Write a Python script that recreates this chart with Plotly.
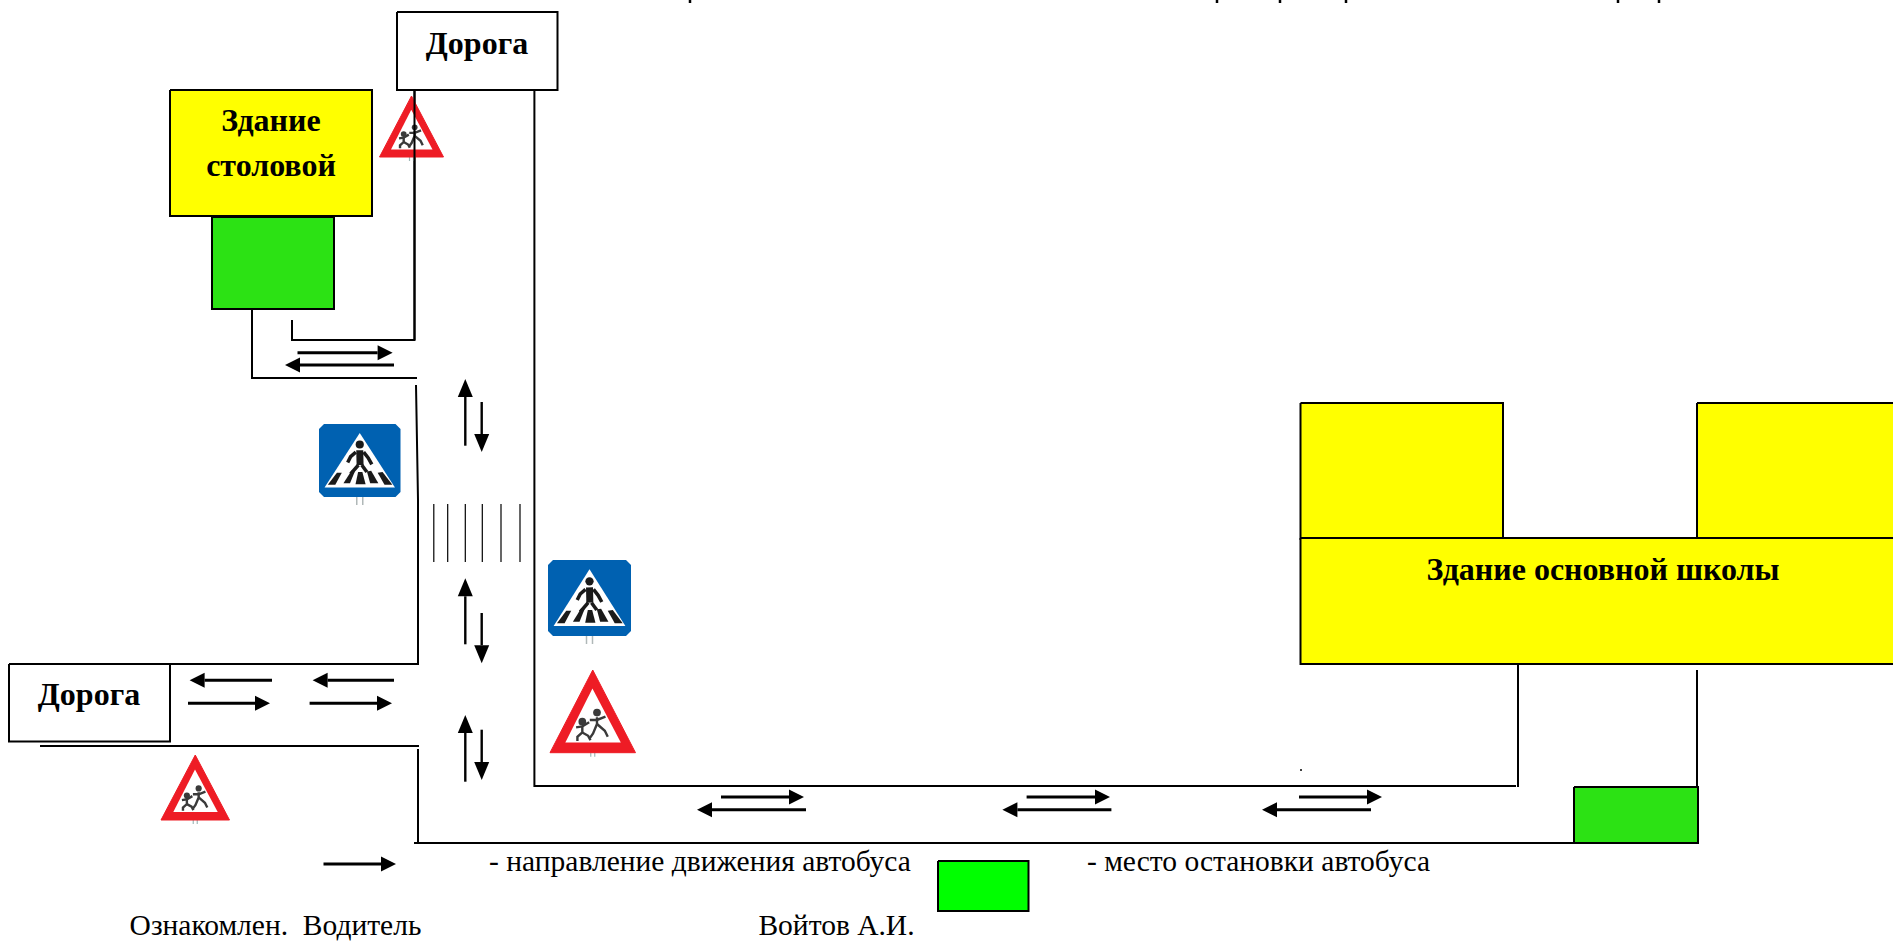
import plotly.graph_objects as go

# ---------- diagram data (page pixels, y down) ----------
road_lines = [
    ([414.5, 414.5, 292, 292], [90, 340, 340, 320]),
    ([252, 252, 417], [309, 378, 378]),
    ([534.4, 534.4, 1516], [90, 786, 786]),
    ([416, 418, 418, 40], [385, 500, 664, 664]),
    ([40, 419], [746, 746]),
    ([418, 418], [749, 843]),
    ([414, 1699], [843, 843]),
    ([1518, 1518], [664, 787]),
    ([1697, 1697], [670, 786]),
]
stripe_x = [433.8, 447.7, 465.3, 482.3, 501, 520]
stripe_y = [504, 562]

boxes = [  # x0, x1, y0, y1, fill
    (170, 372, 90, 216, "#ffff00"),
    (212, 334, 217, 309, "#2ce214"),
    (397, 557.5, 12, 90, "#ffffff"),
    (9, 170, 664, 741.5, "#ffffff"),
    (1300.5, 1503, 403, 539, "#ffff00"),
    (1697, 1895, 403, 539, "#ffff00"),
    (1300.5, 1895, 538, 664, "#ffff00"),
    (1574, 1698, 787, 843, "#2ce214"),
    (938, 1028.5, 861, 911, "#00ff00"),
]

h_arrows = [  # tail x, tip x, y
    (297.5, 392.6, 352.7), (394, 285, 365),
    (272, 189.6, 680.3), (394, 312.6, 680.3),
    (188, 270, 703.3), (309.6, 392, 703.3),
    (721, 804, 797), (806, 697, 809.7),
    (1026.6, 1110, 797), (1111.4, 1002.4, 809.7),
    (1299, 1382, 797), (1371, 1262, 809.7),
    (323.5, 396, 864),
]
v_arrows = [  # x, tail y, tip y
    (465.3, 445.7, 379), (481.7, 402, 452),
    (465.3, 644.3, 578.3), (481.7, 613, 663.3),
    (465.3, 781.7, 715), (481.7, 729.7, 780),
]

crossing_signs = [(319, 400.5, 424, 497), (548, 631, 560, 636)]
child_signs = [(379.5, 443.5, 96, 157), (550, 635.5, 670, 752.7), (161, 229.5, 755, 820)]

# sign artwork, in a template box
crossing_box = (25, 275, 30, 258)
crossing_tri = ([150, 258, 42, 150], [58, 228, 228, 58])
crossing_torso = ([150, 151], [112, 158])
crossing_limbs = [
    ([138, 122, 113], [118, 132, 150]),
    ([162, 176, 187], [118, 136, 156]),
    ([146, 134, 122], [158, 172, 186]),
    ([156, 163, 172], [158, 168, 180]),
]
crossing_bars = [
    ([52, 80, 95, 75], [220, 182, 182, 220]),
    ([100, 125, 135, 120], [215, 175, 178, 215]),
    ([137, 145, 158, 168], [218, 180, 180, 218]),
    ([182, 172, 185, 207], [215, 178, 176, 215]),
    ([226, 205, 220, 250], [220, 182, 180, 220]),
]
crossing_head = (150, 94)

child_box = (28, 290, 30, 275)
child_inner = ([158, 245, 75, 158], [85, 245, 245, 85])
child_lines = [
    ([172, 172, 160, 150], [170, 190, 218, 232]),
    ([172, 196, 205], [190, 210, 228]),
    ([150, 172, 198], [178, 178, 168]),
    ([127, 127, 112, 112], [195, 215, 228, 240]),
    ([127, 145, 152], [215, 225, 238]),
    ([108, 127, 148], [200, 197, 185]),
]
child_heads = [(172, 156), (127, 183)]

labels = ["Дорога", "Здание", "столовой", "Дорога", "Здание основной школы"]
label_x = [477, 271, 271, 89, 1603]
label_y = [46, 123, 168, 697, 572]

notes = ["- направление движения автобуса", "- место остановки автобуса",
         "Ознакомлен.  Водитель", "Войтов А.И."]
note_x = [700, 1258.5, 275.5, 836.5]
note_y = [864, 864, 928, 928]

title_stems = [690, 1217, 1280, 1346, 1618, 1659]
stray_dot = (1301, 770)

# ---------- drawing ----------
fig = go.Figure()


def line(x, y, w=2, c="#000000"):
    fig.add_trace(go.Scatter(x=list(x), y=list(y), mode="lines", line=dict(color=c, width=w),
                             hoverinfo="skip", showlegend=False))


def poly(x, y, c, lw=0, lc=None):
    fig.add_trace(go.Scatter(x=list(x) + [x[0]], y=list(y) + [y[0]], mode="lines", fill="toself",
                             fillcolor=c, line=dict(color=lc or c, width=lw),
                             hoverinfo="skip", showlegend=False))


def mapper(box, target):
    bx0, bx1, by0, by1 = box
    x0, x1, y0, y1 = target
    return (lambda v: [x0 + (a - bx0) / (bx1 - bx0) * (x1 - x0) for a in v],
            lambda v: [y0 + (a - by0) / (by1 - by0) * (y1 - y0) for a in v])


def disc(x, y, size, c):
    fig.add_trace(go.Scatter(x=[x], y=[y], mode="markers", marker=dict(color=c, size=size),
                             hoverinfo="skip", showlegend=False))


for x0, x1, y0, y1, c in boxes:
    poly([x0, x1, x1, x0], [y0, y0, y1, y1], c, 2, "#000000")
for x, y in road_lines:
    line(x, y, 2)
for x in stripe_x:
    line([x, x], stripe_y, 1.2)

HEAD_L, HEAD_H = 15, 7.5
for tail, tip, y in h_arrows:
    d = 1 if tip > tail else -1
    line([tail, tip - d * HEAD_L], [y, y], 3)
    poly([tip, tip - d * HEAD_L, tip - d * HEAD_L], [y, y - HEAD_H, y + HEAD_H], "#000000")
for x, tail, tip in v_arrows:
    d = 1 if tip > tail else -1
    line([x, x], [tail, tip - d * 18], 2.4)
    poly([x, x - HEAD_H, x + HEAD_H], [tip, tip - d * 18, tip - d * 18], "#000000")

for tgt in crossing_signs:
    fx, fy = mapper(crossing_box, tgt)
    x0, x1, y0, y1 = tgt
    r = 5
    poly([x0 + r, x1 - r, x1, x1, x1 - r, x0 + r, x0, x0], [y0, y0, y0 + r, y1 - r, y1, y1, y1 - r, y0 + r], "#0061b1")
    mid = (x0 + x1) / 2
    line([mid - 3, mid - 3], [y1, y1 + 8], 1.5, "#b0b8b8")
    line([mid + 3, mid + 3], [y1, y1 + 8], 1.5, "#b0b8b8")
    poly(fx(crossing_tri[0]), fy(crossing_tri[1]), "#ffffff")
    line(fx(crossing_torso[0]), fy(crossing_torso[1]), 7, "#1a1a1a")
    for lx, ly in crossing_limbs:
        line(fx(lx), fy(ly), 3.5, "#1a1a1a")
    for bx, by in crossing_bars:
        poly(fx(bx), fy(by), "#1a1a1a")
    hx, hy = fx([crossing_head[0]])[0], fy([crossing_head[1]])[0]
    disc(hx, hy, (x1 - x0) * 0.1, "#1a1a1a")

for tgt in child_signs:
    fx, fy = mapper(child_box, tgt)
    x0, x1, y0, y1 = tgt
    mid = (x0 + x1) / 2
    line([mid - 2, mid - 2], [y1, y1 + 4], 1.2, "#9fb8b8")
    line([mid + 2, mid + 2], [y1, y1 + 4], 1.2, "#9fb8b8")
    poly([mid, x1, x0], [y0, y1, y1], "#ee1c25", 1, "#ee1c25")
    poly(fx(child_inner[0]), fy(child_inner[1]), "#ffffff")
    for lx, ly in child_lines:
        line(fx(lx), fy(ly), 2.4, "#3a3a3a")
    for hx, hy in child_heads:
        disc(fx([hx])[0], fy([hy])[0], (x1 - x0) * 0.09, "#3a3a3a")

# the road line that runs over the top triangle sign
line([414.5, 414.5], [90, 340], 2)

for x in title_stems:
    line([x, x], [0, 3], 2.5)
disc(stray_dot[0], stray_dot[1], 2, "#000000")

FONT = "Liberation Serif"
fig.add_trace(go.Scatter(x=label_x, y=label_y, text=labels, mode="text", textposition="middle center",
                         textfont=dict(family=FONT, size=32, color="#000000", weight="bold"),
                         hoverinfo="skip", showlegend=False))
fig.add_trace(go.Scatter(x=note_x, y=note_y, text=notes, mode="text", textposition="middle center",
                         textfont=dict(family=FONT, size=29.5, color="#000000"),
                         hoverinfo="skip", showlegend=False))

fig.update_layout(
    width=1893, height=942, margin=dict(l=0, r=0, t=0, b=0),
    paper_bgcolor="#ffffff", plot_bgcolor="#ffffff",
    xaxis=dict(range=[0, 1893], visible=False, fixedrange=True),
    yaxis=dict(range=[942, 0], visible=False, fixedrange=True),
)
fig.write_html("out.html", post_script="document.body.style.margin='0';document.body.style.overflow='hidden';",
               config=dict(displayModeBar=False))
